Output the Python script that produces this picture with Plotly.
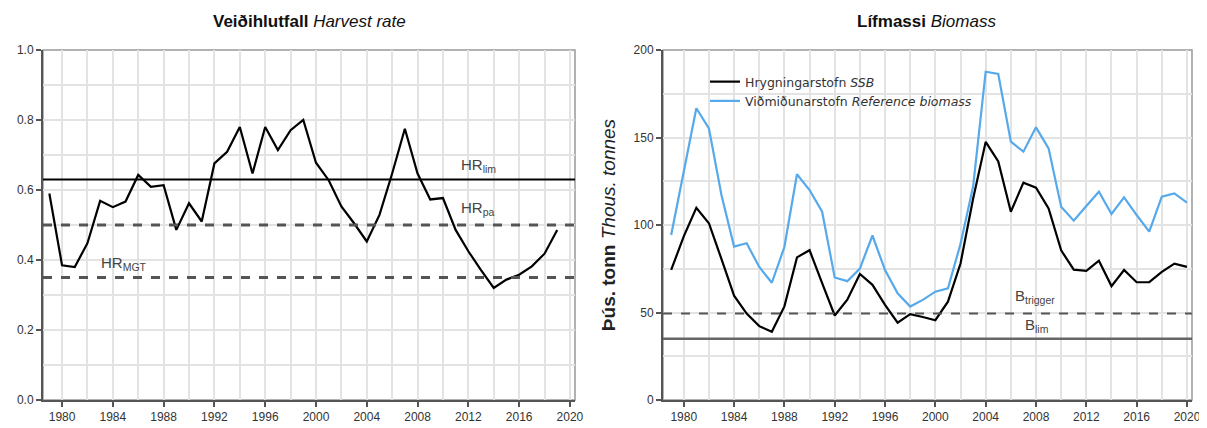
import plotly.graph_objects as go

# ---------------- data ----------------
hr_years = list(range(1979, 2020))
harvest_rate = [0.59, 0.385, 0.38, 0.448, 0.569, 0.551, 0.567, 0.643, 0.609, 0.614,
                0.486, 0.562, 0.51, 0.676, 0.709, 0.78, 0.647, 0.78, 0.714, 0.771,
                0.80, 0.678, 0.628, 0.553, 0.505, 0.453, 0.529, 0.647, 0.775, 0.647,
                0.573, 0.577, 0.486, 0.425, 0.371, 0.32, 0.344, 0.358, 0.382, 0.418,
                0.486]

b_years = list(range(1979, 2021))
ssb = [74.3, 93.5, 109.8, 101.0, 80.5, 59.6, 49.4, 42.2, 39.0, 53.5,
       81.5, 85.6, 66.8, 48.3, 57.3, 72.0, 65.8, 54.4, 44.2, 49.1,
       47.4, 45.6, 56.2, 78.0, 115.0, 147.5, 136.3, 107.6, 124.2, 121.3,
       109.5, 85.5, 74.5, 73.8, 79.6, 65.1, 74.3, 67.3, 67.4, 73.2,
       77.9, 76.1]
ref_biomass = [94.3, 129.5, 166.7, 155.2, 117.0, 87.7, 89.6, 76.0, 67.0, 87.4,
               129.0, 120.0, 107.6, 70.0, 67.9, 75.1, 94.0, 74.2, 61.0, 53.4,
               57.2, 61.9, 63.8, 89.2, 122.0, 187.6, 186.3, 147.6, 141.9, 155.8,
               143.8, 110.5, 102.5, 110.9, 119.0, 106.3, 115.8, 105.7, 96.2, 116.2,
               118.1, 112.8]

hr_lim, hr_pa, hr_mgt = 0.63, 0.50, 0.35
b_trigger, b_lim = 49.5, 35.0

x_ticks = list(range(1980, 2021, 4))
hr_ticks = [0.0, 0.2, 0.4, 0.6, 0.8, 1.0]
b_ticks = [0, 50, 100, 150, 200]

# ---------------- geometry (page has an 8px body margin) ----------------
OFF = 8
W, H = 1207 - OFF, 428 - OFF


def X(px):
    return (px - OFF) / W


def Y(py):
    return 1 - (py - OFF) / H


FONT = "Liberation Sans, Arial, sans-serif"
AXC = "#555555"
GRID = "#e3e3e3"
TXT = "#444444"

fig = go.Figure()

fig.add_trace(go.Scatter(x=hr_years, y=harvest_rate, mode="lines",
                         line=dict(color="black", width=2.2),
                         xaxis="x", yaxis="y", showlegend=False))

fig.add_trace(go.Scatter(x=b_years, y=ssb, mode="lines",
                         name="Hrygningarstofn <i>SSB</i>",
                         line=dict(color="black", width=2.2),
                         xaxis="x2", yaxis="y2"))
fig.add_trace(go.Scatter(x=b_years, y=ref_biomass, mode="lines",
                         name="Viðmiðunarstofn <i>Reference biomass</i>",
                         line=dict(color="#56a9ea", width=2.2),
                         xaxis="x2", yaxis="y2"))

ydom = [Y(400), Y(50)]
common_x = dict(
    tickvals=x_ticks, ticks="outside", ticklen=5, tickwidth=1.5, tickcolor=AXC,
    showline=True, linecolor=AXC, linewidth=2, zeroline=False, automargin=False,
    showgrid=True, gridcolor=GRID, gridwidth=1.5,
    minor=dict(dtick=2, tick0=1980, showgrid=True, gridcolor=GRID, gridwidth=1.5),
    tickfont=dict(family=FONT, size=12, color="#333333"),
)
common_y = dict(
    ticks="outside", ticklen=5, tickwidth=1.5, tickcolor=AXC,
    showline=True, linecolor=AXC, linewidth=2, zeroline=False, automargin=False,
    showgrid=True, gridcolor=GRID, gridwidth=1.5,
    tickfont=dict(family=FONT, size=12, color="#333333"),
)

fig.update_layout(
    width=W, height=H, autosize=False,
    margin=dict(l=0, r=0, t=0, b=0, autoexpand=False),
    paper_bgcolor="white", plot_bgcolor="white",
    font=dict(family=FONT, color=TXT),
    xaxis=dict(domain=[X(43), X(575)], range=[1978.5, 2020.4],
               anchor="y", **common_x),
    yaxis=dict(domain=ydom, range=[0, 1.0], tickvals=hr_ticks, tickformat=".1f",
               anchor="x",
               minor=dict(dtick=0.1, tick0=0, showgrid=True, gridcolor=GRID, gridwidth=1.5),
               **common_y),
    xaxis2=dict(domain=[X(663), X(1192)], range=[1978.35, 2020.4],
                anchor="y2", **common_x),
    yaxis2=dict(domain=ydom, range=[0, 200], tickvals=b_ticks, anchor="x2",
                minor=dict(dtick=25, tick0=0, showgrid=True, gridcolor=GRID, gridwidth=1.5),
                title=dict(text="<b>Þús. tonn</b> <i>Thous. tonnes</i>",
                           font=dict(family=FONT, size=19, color="#222222"), standoff=13),
                **common_y),
    legend=dict(x=X(705), y=Y(67), xanchor="left", yanchor="top",
                bgcolor="rgba(0,0,0,0)",
                font=dict(family="DejaVu Sans, sans-serif", size=12.5, color="#333333"),
                itemwidth=30, tracegroupgap=0),
    showlegend=True,
)

# frame (top / right borders)
for xr, yr in (("x", "y"), ("x2", "y2")):
    fig.add_shape(type="rect", xref=f"{xr} domain", yref=f"{yr} domain",
                  x0=0, x1=1, y0=0, y1=1, line=dict(color="#999999", width=1.5),
                  layer="below")

# reference lines
fig.add_shape(type="line", xref="x domain", yref="y", x0=0, x1=1, y0=hr_lim, y1=hr_lim,
              line=dict(color="black", width=1.8))
for v in (hr_pa, hr_mgt):
    fig.add_shape(type="line", xref="x domain", yref="y", x0=0, x1=1, y0=v, y1=v,
                  line=dict(color="#555555", width=3, dash="dash"))
fig.add_shape(type="line", xref="x2 domain", yref="y2", x0=0, x1=1, y0=b_trigger, y1=b_trigger,
              line=dict(color="#555555", width=2, dash="dash"))
fig.add_shape(type="line", xref="x2 domain", yref="y2", x0=0, x1=1, y0=b_lim, y1=b_lim,
              line=dict(color="#666666", width=2.5))

# labels
ann_font = dict(family=FONT, size=15, color=TXT)
labels = [
    ("x", "y", 2011.3, 0.669, "HR<sub>lim</sub>"),
    ("x", "y", 2011.3, 0.546, "HR<sub>pa</sub>"),
    ("x", "y", 1982.9, 0.391, "HR<sub>MGT</sub>"),
    ("x2", "y2", 2006.2, 58.9, "B<sub>trigger</sub>"),
    ("x2", "y2", 2007.0, 42.3, "B<sub>lim</sub>"),
]
for xr, yr, xv, yv, t in labels:
    fig.add_annotation(xref=xr, yref=yr, x=xv, y=yv, text=t, showarrow=False,
                       xanchor="left", yanchor="middle", font=ann_font)

# titles
fig.add_annotation(xref="paper", yref="paper", x=X(309), y=Y(21),
                   text="<b>Veiðihlutfall</b> <i>Harvest rate</i>", showarrow=False,
                   xanchor="center", yanchor="middle",
                   font=dict(family=FONT, size=17, color="#111111"))
fig.add_annotation(xref="paper", yref="paper", x=X(927), y=Y(21),
                   text="<b>Lífmassi</b> <i>Biomass</i>", showarrow=False,
                   xanchor="center", yanchor="middle",
                   font=dict(family=FONT, size=17, color="#111111"))

fig.write_html("out.html")
